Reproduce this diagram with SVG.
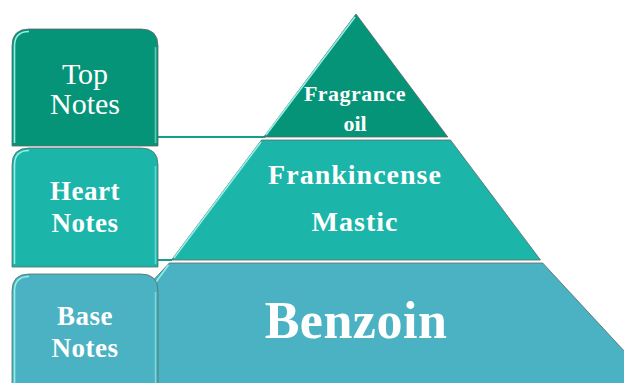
<svg xmlns="http://www.w3.org/2000/svg" width="624" height="383" viewBox="0 0 624 383">
<style>
.edge{stroke:#5a6a68;stroke-width:0.8}
.hl{stroke:#8ff0e6;stroke-width:1.6;fill:none}
.t{font-family:"Liberation Serif","Times New Roman",serif;fill:#ffffff;text-anchor:middle}
.b{font-weight:bold}
.conn{stroke:#12a08a;stroke-width:2;fill:none}
</style>
<rect width="624" height="383" fill="#ffffff"/>
<g id="connectors">
<line class="conn" x1="158" y1="137" x2="265" y2="137"/>
<line class="conn" x1="158" y1="260" x2="172" y2="260"/>
</g>
<g id="base-layer">
<path d="M169.3 263 L542.7 263 L669.5 400 L42.5 400 Z" fill="#4bb2c3" class="edge"/>
<line class="hl" x1="168.5" y1="265" x2="150" y2="290"/>
<text class="t b" x="356" y="338" font-size="52" letter-spacing="0.5">Benzoin</text>
</g>
<g id="heart-layer">
<path d="M261.5 140 L450.5 140 L540.5 260 L171.5 260 Z" fill="#1bb5aa" class="edge"/>
<line class="hl" x1="261" y1="142" x2="174" y2="258"/>
<text class="t b" x="355" y="184" font-size="28" letter-spacing="1">Frankincense</text>
<text class="t b" x="355" y="231" font-size="28" letter-spacing="1">Mastic</text>
</g>
<g id="top-layer">
<path d="M356 14 L447.8 137 L263.8 137 Z" fill="#069478" class="edge"/>
<line class="hl" x1="355" y1="17" x2="266" y2="135"/>
<text class="t b" x="355" y="101" font-size="22" letter-spacing="0.5">Fragrance</text>
<text class="t b" x="355" y="131" font-size="22">oil</text>
</g>
<g id="top-notes">
<path d="M12 146 L12 46 Q12 29 29 29 L141 29 Q158 29 158 46 L158 146 Z" fill="#069478" class="edge"/>
<path class="hl" d="M14.5 143 L14.5 46 Q14.5 31.5 29 31.5" stroke-width="1.2"/>
<path class="hl" d="M155.5 47 L155.5 143" stroke-width="1.2" opacity="0.6"/>
<text class="t" x="85" y="84" font-size="30">Top</text>
<text class="t" x="85" y="114" font-size="30">Notes</text>
</g>
<g id="heart-notes">
<path d="M12 267 L12 165 Q12 148 29 148 L141 148 Q158 148 158 165 L158 267 Z" fill="#1bb5aa" class="edge"/>
<path class="hl" d="M14.5 264 L14.5 165 Q14.5 150.5 29 150.5" stroke-width="1.2"/>
<path class="hl" d="M155.5 166 L155.5 264" stroke-width="1.2" opacity="0.6"/>
<text class="t b" x="85" y="200" font-size="27" letter-spacing="0.5">Heart</text>
<text class="t b" x="85" y="232" font-size="27" letter-spacing="0.5">Notes</text>
</g>
<g id="base-notes">
<path d="M12 400 L12 291 Q12 274 29 274 L141 274 Q158 274 158 291 L158 400 Z" fill="#4bb2c3" class="edge"/>
<path class="hl" d="M14.5 400 L14.5 291 Q14.5 276.5 29 276.5" stroke-width="1.2"/>
<path class="hl" d="M155.5 292 L155.5 400" stroke-width="1.2" opacity="0.6"/>
<text class="t b" x="85" y="325" font-size="27" letter-spacing="0.5">Base</text>
<text class="t b" x="85" y="357" font-size="27" letter-spacing="0.5">Notes</text>
</g>
</svg>
